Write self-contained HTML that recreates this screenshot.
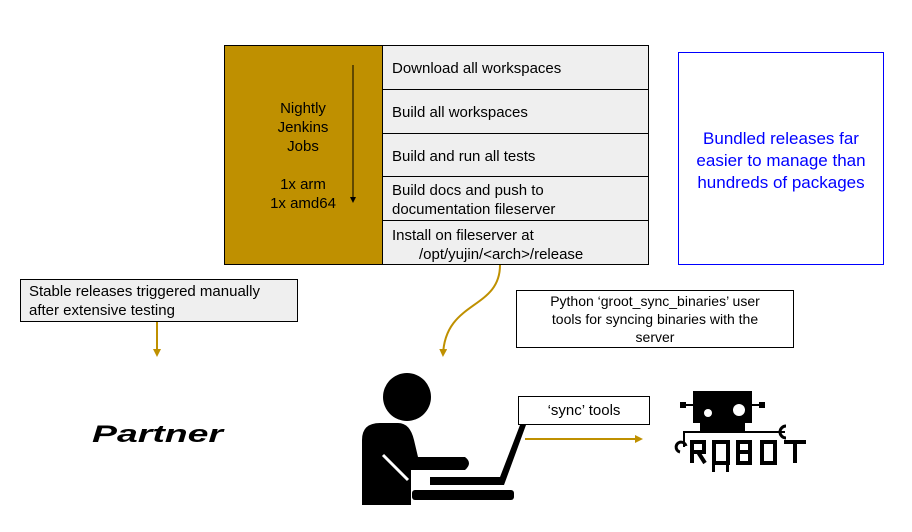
<!DOCTYPE html>
<html><head><meta charset="utf-8"><style>
body{margin:0;width:912px;height:532px;background:#fff;position:relative;overflow:hidden;font-family:"Liberation Sans",Arial,sans-serif;}
.a{position:absolute;box-sizing:border-box;}
.cell{position:absolute;left:382px;width:267px;background:#efefef;border:1px solid #000;box-sizing:border-box;font-size:15px;color:#000;padding-left:9px;padding-top:2px;display:flex;align-items:center;line-height:19px;}
</style></head><body>
<div class="a" style="left:224px;top:45px;width:159px;height:220px;background:#bf9000;border:1px solid #000;"></div>
<div class="a" style="left:224px;top:99px;width:158px;text-align:center;font-size:15px;line-height:19px;">Nightly<br>Jenkins<br>Jobs<br><br>1x arm<br>1x amd64</div>
<div class="cell" style="top:45px;height:45px;">Download all workspaces</div>
<div class="cell" style="top:89px;height:45px;">Build all workspaces</div>
<div class="cell" style="top:133px;height:44px;">Build and run all tests</div>
<div class="cell" style="top:176px;height:45px;">Build docs and push to<br>documentation fileserver</div>
<div class="cell" style="top:220px;height:45px;display:block;padding-top:5px;">Install on fileserver at<br><span style="padding-left:27px">/opt/yujin/&lt;arch&gt;/release</span></div>
<div class="a" style="left:678px;top:52px;width:206px;height:213px;border:1px solid #0000ff;color:#0000ff;font-size:17px;line-height:22px;text-align:center;padding-top:75px;">Bundled releases far<br>easier to manage than<br>hundreds of packages</div>
<div class="a" style="left:20px;top:279px;width:278px;height:43px;border:1px solid #000;background:#efefef;font-size:15px;line-height:19px;padding:2px 0 0 8px;">Stable releases triggered manually<br>after extensive testing</div>
<div class="a" style="left:516px;top:290px;width:278px;height:58px;border:1px solid #000;background:#fff;font-size:14px;line-height:18px;text-align:center;padding-top:1px;">Python ‘groot_sync_binaries’ user<br>tools for syncing binaries with the<br>server</div>
<div class="a" style="left:518px;top:396px;width:132px;height:29px;border:1px solid #000;background:#fff;font-size:15px;text-align:center;line-height:27px;">‘sync’ tools</div>
<svg class="a" style="left:0;top:0" width="912" height="532">
<defs><marker id="g" markerWidth="8" markerHeight="8" refX="6" refY="4" orient="auto" markerUnits="userSpaceOnUse"><path d="M0,0L8,4L0,8z" fill="#bf9000"/></marker>
<marker id="k" markerWidth="6" markerHeight="6" refX="3" refY="3" orient="auto" markerUnits="userSpaceOnUse"><path d="M0,0L6,3L0,6z" fill="#000"/></marker></defs>
<text x="92" y="442" font-family="Liberation Sans,sans-serif" font-weight="bold" font-style="italic" font-size="24" textLength="131" lengthAdjust="spacingAndGlyphs">Partner</text>
<line x1="353" y1="65" x2="353" y2="200" stroke="#000" stroke-width="1" marker-end="url(#k)"/>
<line x1="157" y1="322" x2="157" y2="355" stroke="#bf9000" stroke-width="2" marker-end="url(#g)"/>
<path d="M500,265 C500,310 445,300 443,355" fill="none" stroke="#bf9000" stroke-width="2" marker-end="url(#g)"/>
<line x1="525" y1="439" x2="641" y2="439" stroke="#bf9000" stroke-width="2" marker-end="url(#g)"/>
<!-- person -->
<circle cx="407" cy="397" r="24" fill="#000"/>
<path d="M362,505 L362,440 Q362,423 380,423 L398,423 Q410,423 414,440 L418,457 L465,457 Q473,463 465,470 L411,470 L411,505 Z" fill="#000"/>
<line x1="383" y1="455" x2="408" y2="480" stroke="#fff" stroke-width="3"/>
<path d="M430,477 L500,477 L520,425 L526,425 L504,485 L430,485 Z" fill="#000"/>
<rect x="412" y="490" width="102" height="10" rx="3" fill="#000"/>
<!-- robot -->
<rect x="693" y="391" width="59" height="32" fill="#000"/>
<circle cx="708" cy="413" r="4" fill="#fff"/>
<circle cx="739" cy="410" r="6" fill="#fff"/>
<rect x="680" y="402" width="6" height="6" fill="#000"/><line x1="686" y1="405" x2="693" y2="405" stroke="#000" stroke-width="2"/>
<rect x="759" y="402" width="6" height="6" fill="#000"/><line x1="752" y1="405" x2="759" y2="405" stroke="#000" stroke-width="2"/>
<rect x="700" y="423" width="45" height="10" fill="#000"/>
<path d="M700,432 L684,432 L684,447 M745,432 L785,432" stroke="#000" stroke-width="2" fill="none"/>
<path d="M786,426 a6,6 0 1,0 0,12" stroke="#000" stroke-width="3" fill="none"/>
<path d="M680,452 a5,5 0 1,1 6,-6" stroke="#000" stroke-width="3" fill="none"/>
<g fill="none" stroke="#000" stroke-width="4">
<path d="M692,463 V442 H704 V452 H692 M698,452 L705,463"/>
<rect x="714" y="442" width="14" height="21"/>
<path d="M738,442 H750 V463 H738 Z M738,452 H750"/>
<rect x="762" y="442" width="13" height="21"/>
<path d="M784,442 H806 M795,442 V463"/>
</g>
<rect x="712" y="462" width="3" height="10" fill="#000"/><rect x="726" y="462" width="3" height="10" fill="#000"/>
</svg>
</body></html>
